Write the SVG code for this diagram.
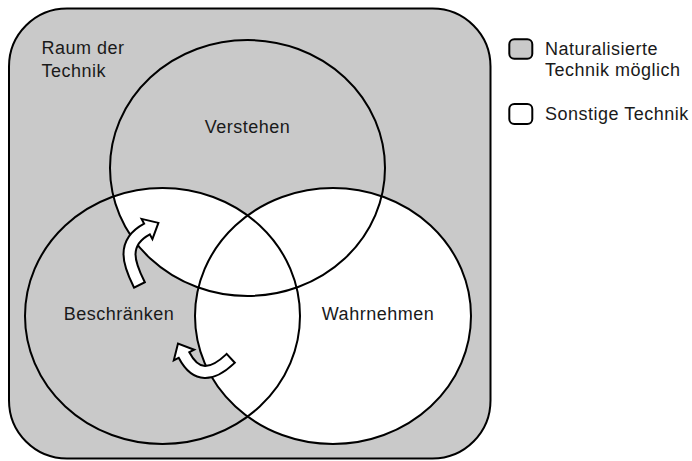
<svg xmlns="http://www.w3.org/2000/svg" width="692" height="461" viewBox="0 0 692 461">
  <style>
    .lbl { font-family: "Liberation Sans", Arial, Helvetica, sans-serif; font-size: 18px; letter-spacing: 0.5px; fill: #1a1a1a; }
    .mid { text-anchor: middle; }
    .ring { fill: none; stroke: #000; stroke-width: 2; }
    .under { fill: none; stroke: #000; stroke-width: 14; }
    .over { fill: none; stroke: #fff; stroke-width: 10; }
    .head { fill: #fff; stroke: #000; stroke-width: 2; stroke-linejoin: miter; }
  </style>
  <defs>
    <clipPath id="clipB">
      <ellipse cx="162.5" cy="316" rx="137.5" ry="128"/>
    </clipPath>
  </defs>

  <g id="raum">
    <rect x="9" y="8.5" width="481.5" height="450" rx="58" ry="58" fill="#c9c9c9" stroke="#000" stroke-width="2"/>
    <ellipse cx="333" cy="316" rx="138" ry="128" fill="#fff"/>
    <ellipse cx="247.5" cy="168" rx="137.5" ry="128" fill="#fff" clip-path="url(#clipB)"/>
    <text class="lbl" x="41.5" y="54">Raum der</text>
    <text class="lbl" x="41.5" y="77">Technik</text>
  </g>

  <g id="verstehen">
    <ellipse class="ring" cx="247.5" cy="168" rx="137.5" ry="128"/>
    <text class="lbl mid" x="247.5" y="133">Verstehen</text>
  </g>

  <g id="beschraenken">
    <ellipse class="ring" cx="162.5" cy="316" rx="137.5" ry="128"/>
    <text class="lbl mid" x="119" y="320">Beschränken</text>
  </g>

  <g id="wahrnehmen">
    <ellipse class="ring" cx="333" cy="316" rx="138" ry="128"/>
    <text class="lbl mid" x="378" y="320">Wahrnehmen</text>
  </g>

  <g id="connectors">
    <g id="arrow-up">
      <path class="under" d="M139.9,285.8 L139,284 C129,264 121,243 147,229"/>
      <polygon class="head" points="152.4,239.1 158.4,222.9 141.6,218.9"/>
      <path class="over" d="M139,284 C129,264 121,243 147,229 l1.8,-0.95"/>
    </g>
    <g id="arrow-down">
      <path class="under" d="M231.45,357.63 L230,359 C212,376 196,378 184,355"/>
      <polygon class="head" points="194.2,349.7 178,343.5 173.8,360.3"/>
      <path class="over" d="M230,359 C212,376 196,378 184,355 l-0.93,-1.77"/>
    </g>
  </g>

  <g id="legend">
    <rect x="509.3" y="39.3" width="23" height="19.5" rx="5" fill="#c9c9c9" stroke="#000" stroke-width="2"/>
    <text class="lbl" x="545" y="55">Naturalisierte</text>
    <text class="lbl" x="545" y="75.5">Technik möglich</text>
    <rect x="509.3" y="104" width="23" height="20" rx="5" fill="#fff" stroke="#000" stroke-width="2"/>
    <text class="lbl" x="545" y="120">Sonstige Technik</text>
  </g>
</svg>
